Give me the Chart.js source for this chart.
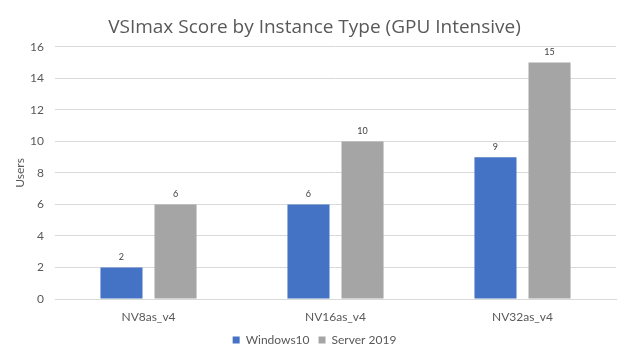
<!DOCTYPE html>
<html>
<head>
<meta charset="utf-8">
<script src="https://cdn.jsdelivr.net/npm/chart.js@4"></script>
<style>
html,body{margin:0;padding:0;background:#fff;}
#wrap{width:624px;height:357px;}
</style>
</head>
<body>
<div id="wrap"><canvas id="c" width="624" height="357"></canvas></div>
<script>
const categories = ["NV8as_v4", "NV16as_v4", "NV32as_v4"];
const windows10 = [2, 6, 9];
const server2019 = [6, 10, 15];
const seriesNames = ["Windows10", "Server 2019"];
const titleText = "VSImax Score by Instance Type (GPU Intensive)";

const FONT = "Lato, 'Open Sans', sans-serif";
const TFONT = "'Open Sans', Lato, sans-serif";

const valueLabels = {
  id: 'valueLabels',
  afterDatasetsDraw(chart) {
    const ctx = chart.ctx;
    ctx.save();
    ctx.font = "9px " + FONT;
    ctx.fillStyle = "#404040";
    ctx.textAlign = "center";
    ctx.textBaseline = "middle";
    chart.data.datasets.forEach((ds, i) => {
      const meta = chart.getDatasetMeta(i);
      meta.data.forEach((bar, j) => {
        ctx.fillText(String(ds.data[j]), bar.x, bar.y - 10);
      });
    });
    ctx.restore();
  }
};

new Chart(document.getElementById('c'), {
  type: 'bar',
  data: {
    labels: categories,
    datasets: [
      { label: seriesNames[0], data: windows10, backgroundColor: '#4472C4', categoryPercentage: 0.578, barPercentage: 0.778 },
      { label: seriesNames[1], data: server2019, backgroundColor: '#A5A5A5', categoryPercentage: 0.578, barPercentage: 0.778 }
    ]
  },
  options: {
    responsive: false,
    animation: false,
    devicePixelRatio: 1,
    layout: { padding: { left: 13, right: 8, top: 16, bottom: 1 } },
    plugins: {
      title: {
        display: true,
        text: titleText,
        color: '#595959',
        font: { family: TFONT, size: 19, weight: 'normal', lineHeight: 1.2 },
        padding: { top: 0, bottom: 8 }
      },
      legend: {
        position: 'bottom',
        labels: {
          color: '#595959',
          font: { family: FONT, size: 12 },
          boxWidth: 7,
          boxHeight: 7,
          padding: 9
        }
      },
      tooltip: { enabled: false }
    },
    scales: {
      x: {
        afterFit(scale) { scale.height = 26; },
        grid: { display: false, drawTicks: false },
        border: { color: '#D9D9D9' },
        ticks: { color: '#595959', font: { family: FONT, size: 12 }, padding: 11 }
      },
      y: {
        min: 0, max: 16,
        afterFit(scale) { scale.width = 42; },
        grid: { color: '#D9D9D9', drawTicks: false },
        border: { display: false },
        ticks: { stepSize: 2, color: '#595959', font: { family: FONT, size: 12 }, padding: 11 },
        title: { display: true, text: 'Users', color: '#595959', font: { family: FONT, size: 12 }, padding: 0 }
      }
    }
  },
  plugins: [valueLabels]
});
</script>
</body>
</html>
